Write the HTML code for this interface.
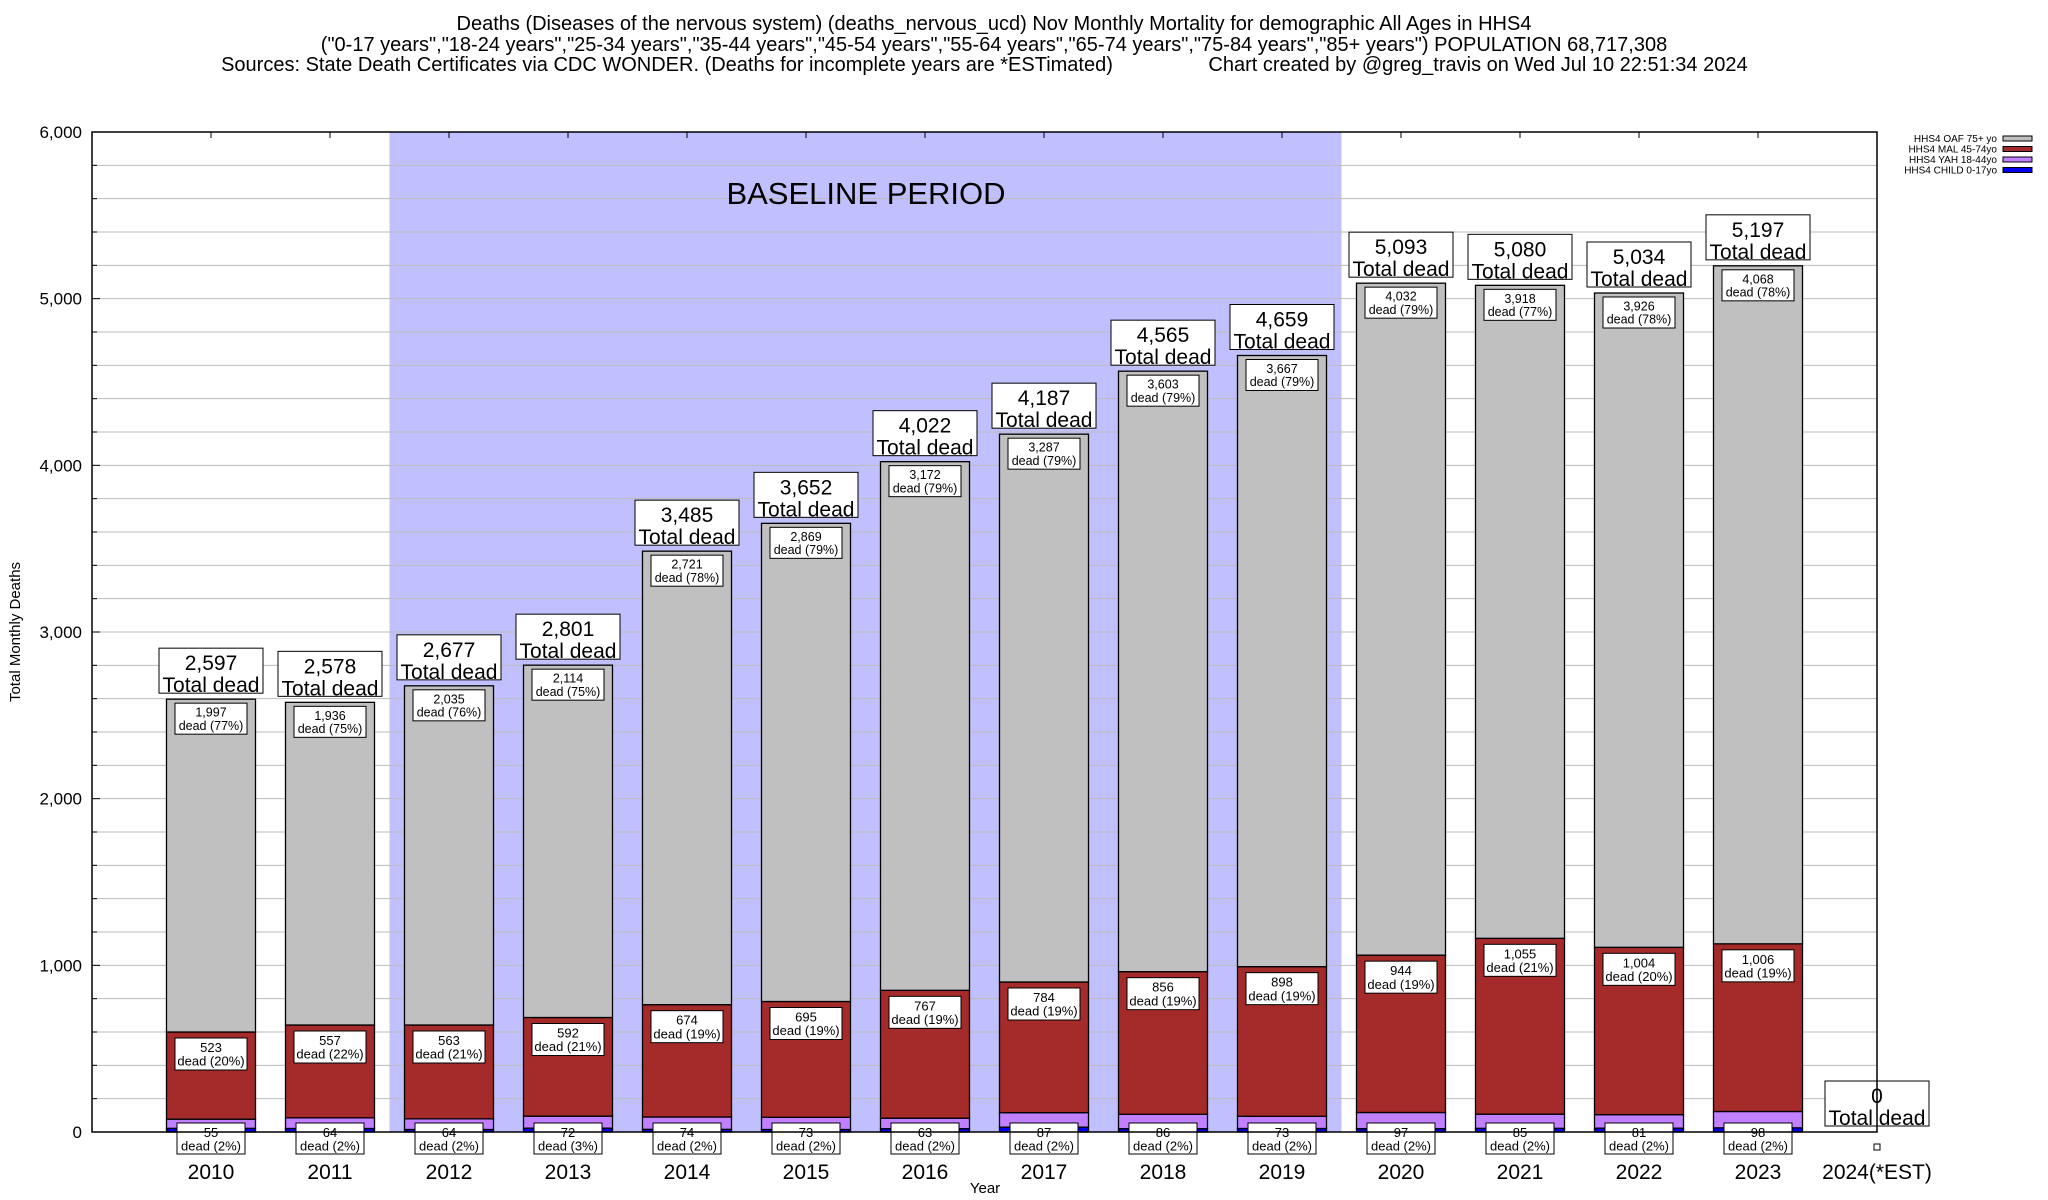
<!DOCTYPE html>
<html><head><meta charset="utf-8"><style>
body{margin:0;background:#fff;}
svg{display:block;font-family:"Liberation Sans",Arial,sans-serif;}
</style></head><body>
<svg id="chart" width="2048" height="1200" viewBox="0 0 2048 1200" xmlns="http://www.w3.org/2000/svg">
<g font-size="20" text-anchor="middle">
<text x="994" y="30">Deaths (Diseases of the nervous system) (deaths_nervous_ucd) Nov Monthly Mortality for demographic All Ages in HHS4</text>
<text x="994" y="51">("0-17 years","18-24 years","25-34 years","35-44 years","45-54 years","55-64 years","65-74 years","75-84 years","85+ years") POPULATION 68,717,308</text>
<text x="667" y="71">Sources: State Death Certificates via CDC WONDER. (Deaths for incomplete years are *ESTimated)</text>
<text x="1478" y="71">Chart created by @greg_travis on Wed Jul 10 22:51:34 2024</text>
</g>
<g id="plot"></g>
</svg>
<script>
const years = ["2010","2011","2012","2013","2014","2015","2016","2017","2018","2019","2020","2021","2022","2023","2024(*EST)"];
const totals = [2597,2578,2677,2801,3485,3652,4022,4187,4565,4659,5093,5080,5034,5197,0];
const oaf = [1997,1936,2035,2114,2721,2869,3172,3287,3603,3667,4032,3918,3926,4068,0];
const mal = [523,557,563,592,674,695,767,784,856,898,944,1055,1004,1006,0];
const yah = [55,64,64,72,74,73,63,87,86,73,97,85,81,98,0];
const child = [22,21,15,23,16,15,20,29,20,21,20,22,23,25,0];
const yTicks = [0,1000,2000,3000,4000,5000,6000];
const baseline = [2011.5,2019.5];

const L=92,R=1877,T=132,B=1132,X0=2009,X1=2024,YMAX=6000;
const sx=v=>L+(v-X0)/(X1-X0)*(R-L);
const sy=v=>B-v/YMAX*(B-T);
const fmt=n=>n.toLocaleString('en-US');
const NS="http://www.w3.org/2000/svg";
const g=document.getElementById('plot');
function mk(tag,attrs,parent,text){const e=document.createElementNS(NS,tag);for(const k in attrs)e.setAttribute(k,attrs[k]);if(text!==undefined)e.textContent=text;(parent||g).appendChild(e);return e;}

let bs=mk('rect',{x:sx(baseline[0]),y:T,width:sx(baseline[1])-sx(baseline[0]),height:B-T,fill:'#c0c0ff'});


for(let v=200;v<YMAX;v+=200){
  const gl=mk('line',{x1:L,x2:R,y1:sy(v),y2:sy(v),stroke:'#bbb','stroke-width':1});
  
  
  mk('line',{x1:L,x2:L+(v%1000==0?8:5),y1:sy(v),y2:sy(v),stroke:'#000','stroke-width':1});
}
let bt=mk('text',{x:866,y:204,'font-size':31,'text-anchor':'middle'},g,'BASELINE PERIOD');


yTicks.forEach(v=>{
  const t=mk('text',{x:L-10,y:sy(v)+6,'font-size':17,'text-anchor':'end'},g,fmt(v));
  
  
});
for(let yv=X0+1;yv<X1;yv++){mk('line',{x1:sx(yv),x2:sx(yv),y1:T,y2:T+6,stroke:'#000'});}

function box(cx,top,w,h,lines,fs,name){
  const grp=mk('g',{});
  
  
  mk('rect',{x:cx-w/2,y:top,width:w,height:h,fill:'#fff',stroke:'#000','stroke-width':1},grp);
  lines.forEach((s,i)=>mk('text',{x:cx,y:top+fs+1+i*fs*1.05,'font-size':fs,'text-anchor':'middle'},grp,s));
}
const bw=89;
years.forEach((yr,i)=>{
  const cx=sx(2010+i);
  const segs=[[child[i],'#0000ee','child'],[yah[i],'#c080ff','yah'],[mal[i],'#a52a2a','mal'],[oaf[i],'#c0c0c0','oaf']];
  let acc=0;
  if(totals[i]>0){
    segs.forEach(s=>{
      const r=mk('rect',{x:cx-bw/2,y:sy(acc+s[0]),width:bw,height:sy(acc)-sy(acc+s[0]),fill:s[1],stroke:'#000','stroke-width':1.3});
      
      
      acc+=s[0];
    });
    const pct=v=>Math.round(v/totals[i]*100)+'%';
    box(cx,sy(totals[i])+4,72,31,[fmt(oaf[i]),'dead ('+pct(oaf[i])+')'],12.5,'oaf-label');
    box(cx,sy(mal[i]+yah[i]+child[i])+6,72,32,[fmt(mal[i]),'dead ('+pct(mal[i])+')'],13,'mal-label');
    box(cx,B-9,68,31,[fmt(yah[i]),'dead ('+pct(yah[i])+')'],13,'yah-label');
  }
  box(cx,sy(totals[i])-51,104,45,[fmt(totals[i]),'Total dead'],21,'total-label');
  const xt=mk('text',{x:cx,y:B+47,'font-size':21,'text-anchor':'middle'},g,yr);
  
  
});
if(totals[14]===0){mk('rect',{x:R-3,y:B+12,width:6,height:6,fill:'#fff',stroke:'#000'});}
let fr=mk('rect',{x:L,y:T,width:R-L,height:B-T,fill:'none',stroke:'#000','stroke-width':1.5});


let yt=mk('text',{x:0,y:0,'font-size':15,'text-anchor':'middle',transform:'translate(20,'+((T+B)/2)+') rotate(-90)'},g,'Total Monthly Deaths');


let xtt=mk('text',{x:985,y:1193,'font-size':15,'text-anchor':'middle'},g,'Year');


const legNames=['HHS4 OAF 75+ yo','HHS4 MAL 45-74yo','HHS4 YAH 18-44yo','HHS4 CHILD 0-17yo'];
const legCols=['#c0c0c0','#a52a2a','#c080ff','#0000ee'];
legNames.forEach((n,i)=>{
  const lg=mk('g',{});
  
  
  const y=138+i*10.5;
  mk('text',{x:1997,y:y+4,'font-size':10,'text-anchor':'end'},lg,n);
  mk('rect',{x:2003,y:y-2,width:29,height:5,fill:legCols[i],stroke:'#000','stroke-width':1},lg);
});
</script>
</body></html>
